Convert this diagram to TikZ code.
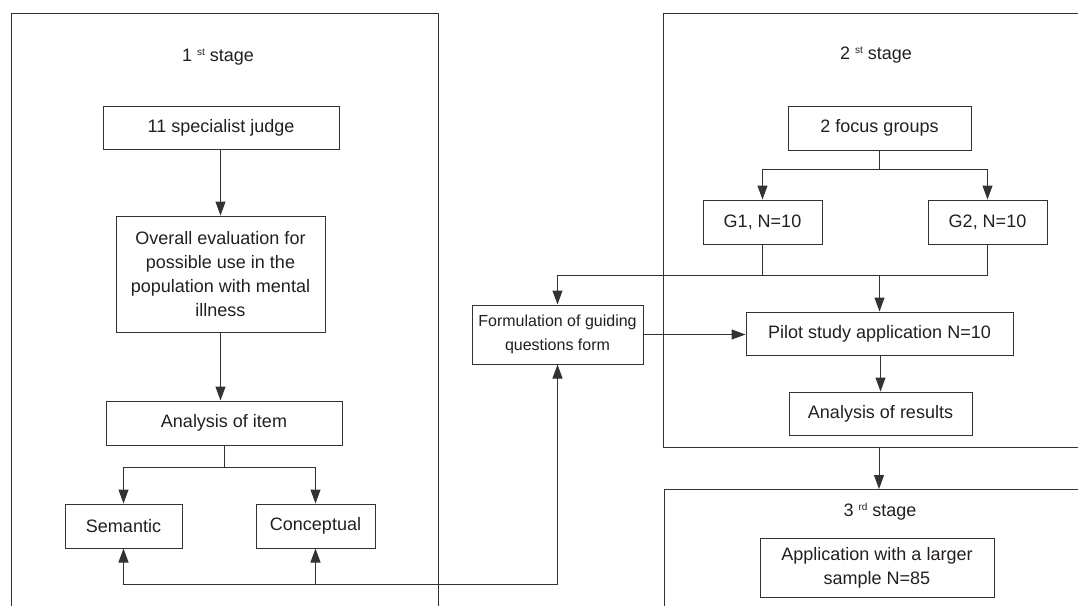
\documentclass[tikz,border=0pt]{standalone}
\usepackage{fontspec}
\setmainfont{Liberation Sans}
\usetikzlibrary{arrows.meta,calc}
\definecolor{ink}{HTML}{231F20}
\definecolor{lin}{HTML}{333333}
\begin{document}
\begin{tikzpicture}[x=1pt,y=-1pt,
  every node/.style={text=ink},
  box/.style={draw=lin,line width=1pt,inner sep=0pt,align=center,font=\fontsize{18}{24}\selectfont},
  smallbox/.style={box,font=\fontsize{16}{23.5}\selectfont},
  title/.style={inner sep=0pt,font=\fontsize{18}{22}\selectfont},
  frame/.style={draw=lin,line width=1pt},
  conn/.style={draw=lin,line width=1pt},
  arr/.style={conn,-{Triangle[length=14pt,width=10pt]}}]
\useasboundingbox (0,0) rectangle (1078,606);
% stage frames
\draw[frame] (11,606) -- (11,13) -- (438,13) -- (438,606);
\draw[frame] (1078,13) -- (663,13) -- (663,447) -- (1078,447);
\draw[frame] (1078,489) -- (664,489) -- (664,606);
% titles
\node[title] (t1) at (218,57) {1 \raisebox{6pt}{\fontsize{10}{10}\selectfont st} stage};
\node[title] (t2) at (876,55) {2 \raisebox{6pt}{\fontsize{10}{10}\selectfont st} stage};
\node[title] (t3) at (880,512) {3 \raisebox{6pt}{\fontsize{10}{10}\selectfont rd} stage};
% stage 1
\node[box,minimum width=236pt,minimum height=43pt] (judge) at (221,127.5) {11 specialist judge};
\node[box,minimum width=209pt,minimum height=116pt] (overall) at (220.5,274) {Overall evaluation for\\possible use in the\\population with mental\\illness};
\node[box,minimum width=236pt,minimum height=44pt] (item) at (224,423) {Analysis of item};
\node[box,minimum width=117pt,minimum height=44pt] (sem) at (123.5,526) {Semantic};
\node[box,minimum width=119pt,minimum height=44pt] (con) at (315.5,526) {Conceptual};
% middle
\node[smallbox,minimum width=171pt,minimum height=59pt] (form) at (557.5,334.5) {Formulation of guiding\\questions form};
% stage 2
\node[box,minimum width=183pt,minimum height=44pt] (focus) at (879.5,128) {2 focus groups};
\node[box,minimum width=119pt,minimum height=44pt] (g1) at (762.5,222) {G1, N=10};
\node[box,minimum width=119pt,minimum height=44pt] (g2) at (987.5,222) {G2, N=10};
\node[box,minimum width=267pt,minimum height=43pt] (pilot) at (879.5,333.5) {Pilot study application N=10};
\node[box,minimum width=183pt,minimum height=43pt] (res) at (880.5,413.5) {Analysis of results};
% stage 3
\node[box,minimum width=234pt,minimum height=59pt] (app) at (877,567.5) {Application with a larger\\sample N=85};
% connectors stage 1
\draw[arr] (judge.south -| overall.north) -- (overall.north);
\draw[arr] (overall.south) -- (overall.south |- item.north);
\coordinate (ij) at (item.south |- 0,467);
\draw[conn] (item.south) -- (ij);
\draw[arr] (ij) -| (sem.north);
\draw[arr] (ij) -| (con.north);
\coordinate (bj) at (con.south |- 0,584);
\draw[arr] (bj) -- (con.south);
\draw[arr] (bj) -| (sem.south);
\draw[arr] (bj) -| (form.south);
% connectors stage 2
\coordinate (fj) at (focus.south |- 0,169);
\draw[conn] (focus.south) -- (fj);
\draw[arr] (fj) -| (g1.north);
\draw[arr] (fj) -| (g2.north);
\coordinate (gj) at (pilot.north |- 0,275);
\draw[conn] (g1.south) |- (gj);
\draw[conn] (g2.south) |- (gj);
\draw[arr] (gj) -- (pilot.north);
\draw[arr] (gj) -| (form.north);
\draw[arr] (form.east) -- (form.east -| pilot.west);
\draw[arr] (pilot.south -| res.north) -- (res.north);
\coordinate (s2b) at (879,447);
\coordinate (s3t) at (879,489);
\draw[arr] (s2b) -- (s3t);
\end{tikzpicture}
\end{document}
